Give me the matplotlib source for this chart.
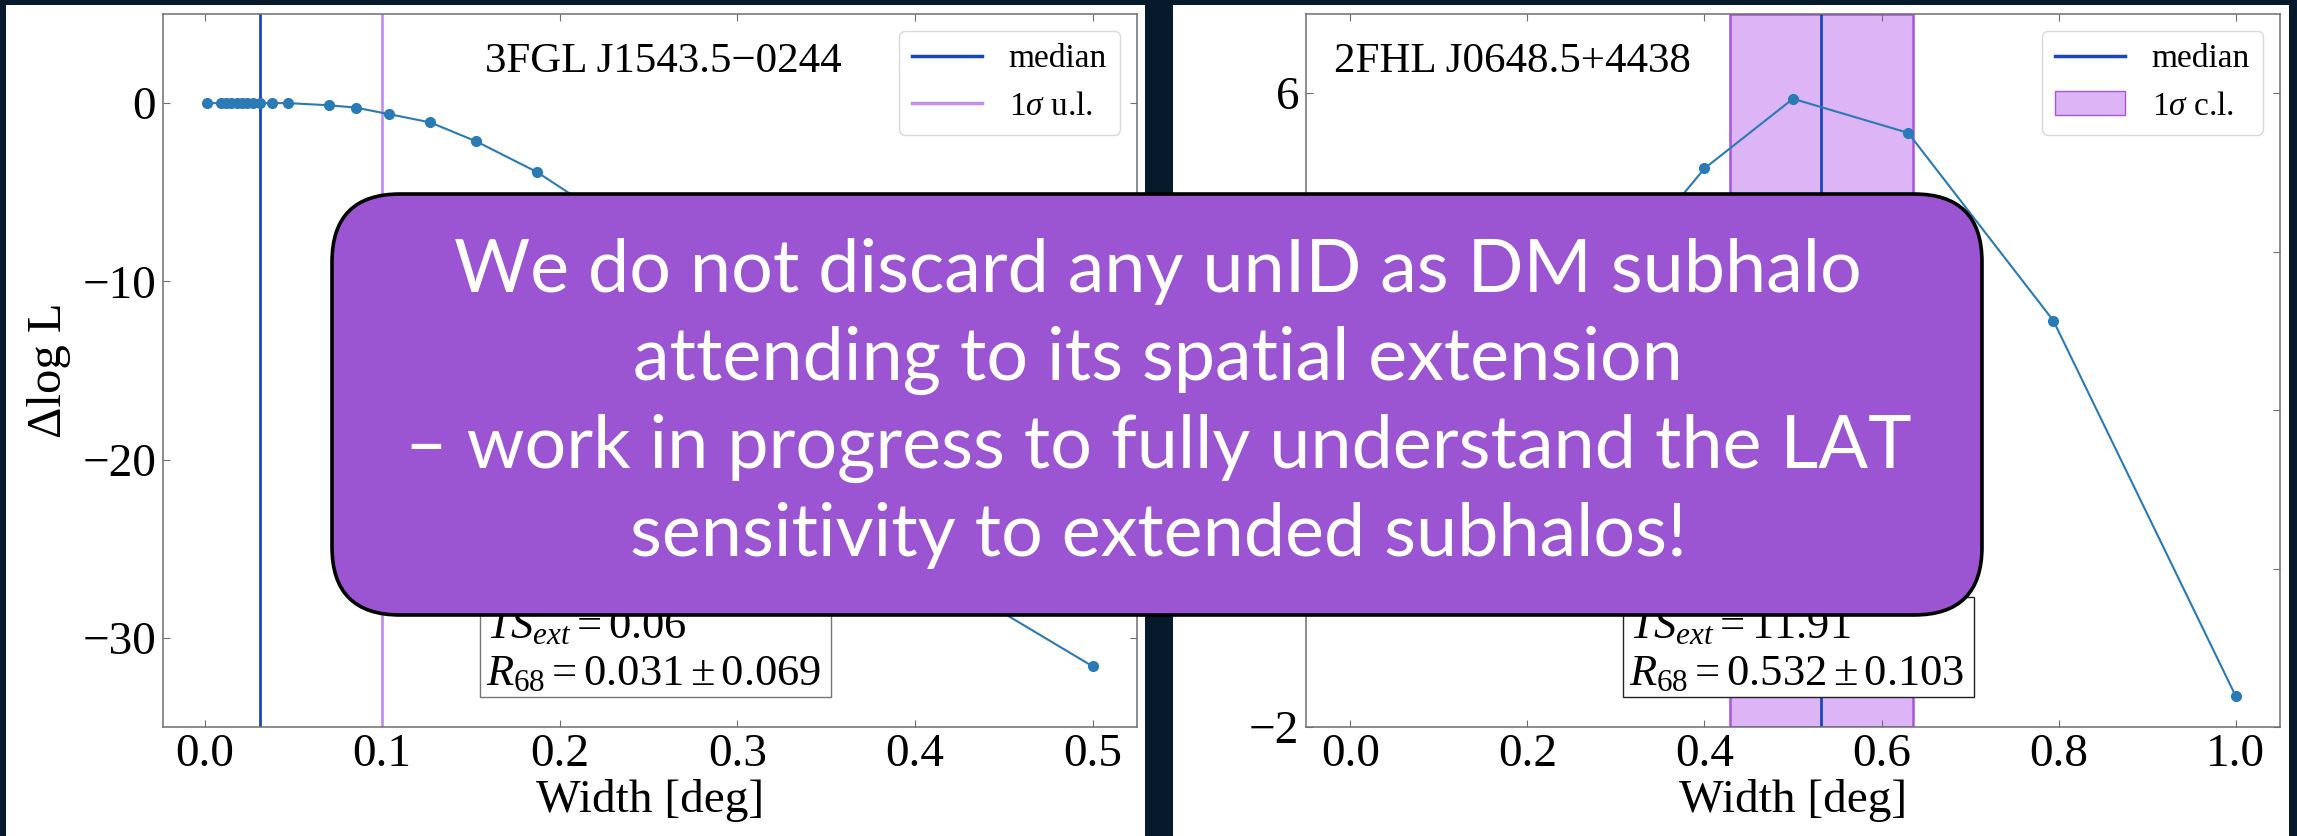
import matplotlib
matplotlib.use("Agg")
import matplotlib.pyplot as plt
from matplotlib.patches import Rectangle, FancyBboxPatch, Patch
from matplotlib.lines import Line2D

# ---------------- data ----------------
left_x = [0.0015, 0.009, 0.012, 0.015, 0.018, 0.021, 0.024, 0.027, 0.031, 0.038, 0.047,
          0.070, 0.085, 0.104, 0.127, 0.153, 0.187, 0.229, 0.279, 0.341, 0.416, 0.5]
left_y = [0.0, 0.0, 0.0, 0.0, 0.0, 0.0, 0.0, 0.0, 0.0, 0.0, 0.0,
          -0.12, -0.25, -0.62, -1.08, -2.15, -3.86, -6.6, -11.5, -18.0, -26.6, -31.6]
left_median = 0.031
left_ul = 0.100
left_title = "3FGL J1543.5\u22120244"
left_stats = [r"$TS_{ext} = 0.06$", r"$R_{68} = 0.031 \pm 0.069$"]
left_xticks = [0.0, 0.1, 0.2, 0.3, 0.4, 0.5]
left_yticks = [0, -10, -20, -30]

right_x = [0.0, 0.1, 0.2, 0.3, 0.4, 0.5, 0.63, 0.794, 1.0]
right_y = [0.0, 0.4, 1.6, 3.7, 5.05, 5.93, 5.50, 3.13, -1.61]
right_median = 0.532
right_band = (0.429, 0.635)
right_title = "2FHL J0648.5+4438"
right_stats = [r"$TS_{ext} = 11.91$", r"$R_{68} = 0.532 \pm 0.103$"]
right_xticks = [0.0, 0.2, 0.4, 0.6, 0.8, 1.0]
right_yticks = [-2, 0, 2, 4, 6]

xlabel = "Width [deg]"
ylabel = "\u0394log L"
legend_left = ["median", r"1$\sigma$ u.l."]
legend_right = ["median", r"1$\sigma$ c.l."]

box_lines = ["We do not discard any unID as DM subhalo",
             "attending to its spatial extension",
             "\u2013 work in progress to fully understand the LAT",
             "sensitivity to extended subhalos!"]

# ---------------- style ----------------
W, H = 2297, 836
plt.rcParams['font.family'] = ['Liberation Serif', 'DejaVu Serif']
plt.rcParams['mathtext.fontset'] = 'custom'
plt.rcParams['mathtext.rm'] = 'Liberation Serif'
plt.rcParams['mathtext.it'] = 'Liberation Serif:italic'
plt.rcParams['mathtext.bf'] = 'Liberation Serif:bold'

BG = '#061a2b'
MED = '#1a45c0'
UL = '#c48ff0'
BAND_FC = '#ddb4f5'
BAND_EC = '#a855dd'
DATA = '#2a7ab6'
PURPLE = '#9b55d2'

fig = plt.figure(figsize=(W / 100, H / 100), dpi=100)
fig.patch.set_facecolor(BG)

# background panels
bg = fig.add_axes([0, 0, 1, 1])
bg.set_xlim(0, W)
bg.set_ylim(H, 0)
bg.axis('off')
bg.set_zorder(0)
bg.add_patch(Rectangle((6, 5), 1139, 831, facecolor='white', edgecolor='none'))
bg.add_patch(Rectangle((1173, 5), 1116, 831, facecolor='white', edgecolor='none'))


def px_axes(x0, x1, y0, y1):
    return fig.add_axes([x0 / W, 1 - y1 / H, (x1 - x0) / W, (y1 - y0) / H])


def style(ax, xticks, yticks):
    ax.set_facecolor('white')
    ax.set_zorder(1)
    for s in ax.spines.values():
        s.set_color('#6f6f6f')
        s.set_linewidth(1.1)
    ax.tick_params(direction='in', top=True, right=True, length=5, width=0.8,
                   color='#6f6f6f', labelsize=34, pad=5)
    ax.set_xticks(xticks)
    ax.set_xticklabels(["{:.1f}".format(v) for v in xticks])
    ax.set_yticks(yticks)
    ax.set_yticklabels([("\u2212" + str(-v)) if v < 0 else str(v) for v in yticks])
    ax.set_xlabel(xlabel, fontsize=34, labelpad=2)


def stats_box(ax, lines, edge):
    ax.add_patch(Rectangle((0.3255, 0.042), 0.360, 0.140, transform=ax.transAxes,
                           facecolor='white', edgecolor=edge, lw=1.0, zorder=4))
    ax.text(0.3316, 0.1248, lines[0], transform=ax.transAxes, fontsize=32,
            ha='left', va='baseline', zorder=5)
    ax.text(0.3316, 0.0589, lines[1], transform=ax.transAxes, fontsize=32,
            ha='left', va='baseline', zorder=5)


# ---------------- left panel ----------------
axL = px_axes(163, 1137, 14, 727)
axL.plot(left_x, left_y, '-o', color=DATA, lw=1.5, ms=7, zorder=3)
axL.axvline(left_median, color=MED, lw=2.0, zorder=2)
axL.axvline(left_ul, color=UL, lw=2.0, zorder=2)
axL.set_ylim(-35, 5)
style(axL, left_xticks, left_yticks)
axL.set_ylabel(ylabel, fontsize=35, labelpad=8)
axL.text(0.331, 0.9187, left_title, transform=axL.transAxes, fontsize=31,
         ha='left', va='baseline')
hL = [Line2D([], [], color=MED, lw=2.5), Line2D([], [], color=UL, lw=2.5)]
axL.legend(hL, legend_left, loc='upper right', fontsize=24, handlelength=2.1,
           fancybox=True, framealpha=0.8, edgecolor='#d0d0d0')
stats_box(axL, left_stats, '#777777')

# ---------------- right panel ----------------
axR = px_axes(1306, 2280, 14, 727)
axR.axvspan(right_band[0], right_band[1], facecolor=BAND_FC, edgecolor=BAND_EC, lw=1.8, zorder=1)
axR.axvline(right_median, color=MED, lw=2.0, zorder=2)
axR.plot(right_x, right_y, '-o', color=DATA, lw=1.5, ms=7, zorder=3)
axR.set_ylim(-2, 7)
style(axR, right_xticks, right_yticks)
axR.text(0.0287, 0.9187, right_title, transform=axR.transAxes, fontsize=31,
         ha='left', va='baseline')
hR = [Line2D([], [], color=MED, lw=2.5),
      Patch(facecolor=BAND_FC, edgecolor=BAND_EC, lw=1.0)]
axR.legend(hR, legend_right, loc='upper right', fontsize=24, handlelength=2.1,
           fancybox=True, framealpha=0.8, edgecolor='#d0d0d0')
stats_box(axR, right_stats, '#222222')

# ---------------- overlay box ----------------
ov = fig.add_axes([0, 0, 1, 1])
ov.set_xlim(0, W)
ov.set_ylim(H, 0)
ov.axis('off')
ov.patch.set_alpha(0)
ov.set_zorder(5)
ov.add_patch(FancyBboxPatch((332, 194), 1650, 421,
                            boxstyle="round,pad=0,rounding_size=68",
                            facecolor=PURPLE, edgecolor='black', lw=2.6))
baselines = [292, 380, 468, 556]
for line, yb in zip(box_lines, baselines):
    ov.text(1158, yb, line, ha='center', va='baseline', color='white',
            fontsize=53, family=['Lato', 'DejaVu Sans'], fontweight='normal')

fig.savefig("out.png", dpi=100, facecolor=fig.get_facecolor())
